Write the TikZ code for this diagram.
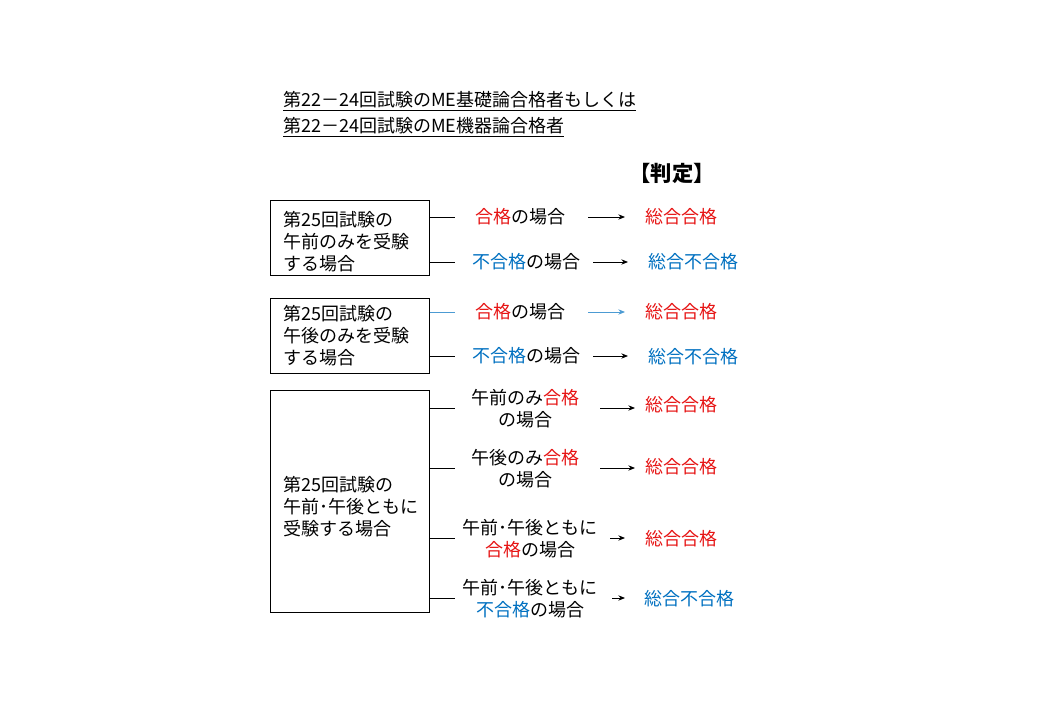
\documentclass[tikz,border=0pt]{standalone}
\usepackage{fontspec}
\usetikzlibrary{arrows.meta}
\setmainfont{Noto Sans CJK JP}
\definecolor{jred}{RGB}{230,20,20}
\definecolor{jblue}{RGB}{0,112,192}
\newcommand{\R}[1]{\textcolor{jred}{#1}}
\newcommand{\B}[1]{\textcolor{jblue}{#1}}
\begin{document}
\begin{tikzpicture}[x=0.75pt,y=-0.75pt,font=\fontsize{13.5}{16.5}\selectfont,
  box/.style={draw,line width=0.6pt},
  lbl/.style={align=center,inner sep=0pt},
  res/.style={inner sep=0pt},
  arr/.style={-{Stealth[length=5pt,width=4pt]},line width=0.7pt},
  ln/.style={line width=0.6pt}]
\useasboundingbox (0,0) rectangle (1040,720);
\node[anchor=west,inner sep=0pt] (h1) at (283,101) {\underline{第22－24回試験のME基礎論合格者もしくは}};
\node[anchor=west,inner sep=0pt] (h2) at (283,127) {\underline{第22－24回試験のME機器論合格者}};
\node[inner sep=0pt,font=\fontsize{16}{18}\selectfont\bfseries] (hd) at (672,173) {【判定】};
% box 1
\node[box,minimum width=159*0.75pt,minimum height=75*0.75pt,anchor=north west] (b1) at (270,200) {};
\node[anchor=west,align=left,inner sep=0pt] (t1) at (283,242) {第25回試験の\\午前のみを受験\\する場合};
\coordinate (b1a) at (455,217); \coordinate (b1b) at (455,262);
\draw[ln] (b1.east|-b1a) -- (b1a); \draw[ln] (b1.east|-b1b) -- (b1b);
\node[lbl] (l1a) at (520,217) {\R{合格}の場合};
\node[lbl] (l1b) at (526,262) {\B{不合格}の場合};
\node[res,text=jred] (r1a) at (681,217) {総合合格};
\node[res,text=jblue] (r1b) at (693,262) {総合不合格};
\draw[arr] (588,217) -- (625,217);
\draw[arr] (593,262) -- (628,262);
% box 2
\node[box,minimum width=159*0.75pt,minimum height=75*0.75pt,anchor=north west] (b2) at (270,298) {};
\node[anchor=west,align=left,inner sep=0pt] (t2) at (283,336) {第25回試験の\\午後のみを受験\\する場合};
\coordinate (b2a) at (455,312); \coordinate (b2b) at (455,356);
\draw[ln,jblue!70] (b2.east|-b2a) -- (b2a); \draw[ln] (b2.east|-b2b) -- (b2b);
\node[lbl] (l2a) at (520,312) {\R{合格}の場合};
\node[lbl] (l2b) at (526,356) {\B{不合格}の場合};
\node[res,text=jred] (r2a) at (681,312) {総合合格};
\node[res,text=jblue] (r2b) at (693,357) {総合不合格};
\draw[arr,color=jblue!70] (588,312) -- (625,312);
\draw[arr] (593,356) -- (628,356);
% box 3
\node[box,minimum width=159*0.75pt,minimum height=222*0.75pt,anchor=north west] (b3) at (270,390) {};
\node[anchor=west,align=left,inner sep=0pt] (t3) at (283,507) {第25回試験の\\午前･午後ともに\\受験する場合};
\coordinate (c1) at (455,408); \coordinate (c2) at (455,468);
\coordinate (c3) at (455,538); \coordinate (c4) at (455,598);
\foreach \c in {c1,c2,c3,c4} \draw[ln] (b3.east|-\c) -- (\c);
\node[lbl] (m1) at (525,409) {午前のみ\R{合格}\\の場合};
\node[lbl] (m2) at (525,469) {午後のみ\R{合格}\\の場合};
\node[lbl] (m3) at (530,539) {午前･午後ともに\\\R{合格}の場合};
\node[lbl] (m4) at (530,599) {午前･午後ともに\\\B{不合格}の場合};
\node[res,text=jred] (s1) at (681,405) {総合合格};
\node[res,text=jred] (s2) at (681,467) {総合合格};
\node[res,text=jred] (s3) at (681,539) {総合合格};
\node[res,text=jblue] (s4) at (689,599) {総合不合格};
\draw[arr] (600,408) -- (635,408);
\draw[arr] (600,468) -- (635,468);
\draw[arr] (610,538) -- (625,538);
\draw[arr] (612,598) -- (625,598);
\end{tikzpicture}
\end{document}
